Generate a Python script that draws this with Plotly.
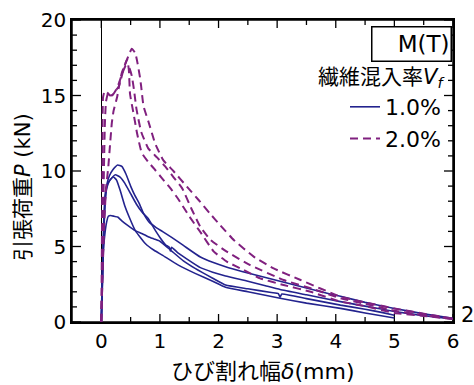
import plotly.graph_objects as go

# Tensile load P (kN) vs crack width delta (mm), fiber content 1.0 % (solid) and 2.0 % (dashed)

# ---- 1.0 % specimens ----
b1_x = [0, 0.02, 0.04, 0.07, 0.1, 0.14, 0.2, 0.28, 0.35, 0.42, 0.5, 0.57, 0.64, 0.72, 0.82, 0.92,
        1.04, 1.2, 1.4, 1.69, 1.9, 2.12, 2.4, 2.7, 3.0, 3.4, 3.8, 4.08, 4.5, 5.0, 5.5, 6.0]
b1_y = [0, 2.5, 5.5, 8.2, 9.2, 9.7, 10.1, 10.4, 10.3, 9.8, 9.0, 8.4, 7.9, 7.2, 6.6, 6.3,
        6.0, 5.6, 5.07, 4.3, 3.95, 3.66, 3.35, 3.05, 2.75, 2.35, 1.95, 1.7, 1.3, 0.9, 0.55, 0.25]

b2_x = [0, 0.02, 0.04, 0.07, 0.1, 0.15, 0.24, 0.32, 0.4, 0.5, 0.6, 0.7, 0.8, 0.9, 1.0, 1.1, 1.16,
        1.18, 1.2, 1.3, 1.45, 1.69, 1.9, 2.12, 2.5, 2.8, 3.05, 3.5, 4.08, 4.5, 5.0, 5.5, 6.0]
b2_y = [0, 3.0, 6.5, 8.6, 9.1, 9.4, 9.75, 9.6, 9.2, 8.5, 7.8, 7.25, 6.85, 6.2, 5.6, 5.1, 4.95,
        4.7, 4.95, 4.6, 4.2, 3.6, 3.3, 3.05, 2.7, 2.4, 2.15, 1.8, 1.35, 1.05, 0.7, 0.42, 0.2]

b3_x = [0, 0.02, 0.05, 0.08, 0.12, 0.17, 0.21, 0.26, 0.32, 0.4, 0.47, 0.58, 0.75, 0.9, 1.04,
        1.3, 1.6, 1.9, 2.12, 2.5, 3.05, 3.5, 4.08, 4.5, 5.0]
b3_y = [0, 3.5, 7.0, 8.6, 9.2, 9.5, 9.6, 9.4, 8.74, 7.7, 7.0, 6.05, 5.2, 4.75, 4.43,
        3.8, 3.22, 2.7, 2.3, 2.0, 1.57, 1.25, 0.9, 0.6, 0.27]

b4_x = [0, 0.01, 0.03, 0.06, 0.09, 0.12, 0.16, 0.22, 0.28, 0.35, 0.45, 0.58, 0.7, 0.8, 0.9, 1.0,
        1.2, 1.4, 1.6, 1.9, 2.12, 2.5, 2.9, 3.02, 3.05, 3.08, 3.5, 4.08, 4.5, 4.8, 5.0]
b4_y = [0, 2.0, 4.5, 5.8, 6.6, 7.0, 7.05, 7.0, 6.95, 6.7, 6.4, 6.05, 5.85, 5.65, 5.5, 5.35,
        4.7, 4.05, 3.55, 2.9, 2.45, 2.2, 1.95, 1.88, 1.65, 1.85, 1.55, 1.12, 0.85, 0.62, 0.45]

# ---- 2.0 % specimens ----
d1_x = [0, 0.01, 0.02, 0.03, 0.06, 0.1, 0.15, 0.21, 0.26, 0.3, 0.35, 0.4, 0.44, 0.47, 0.49,
        0.55, 0.61, 0.69, 0.8, 0.89, 1.04, 1.2, 1.32, 1.5, 1.7, 1.92, 2.14, 2.43, 2.71, 3.11,
        3.57, 4.08, 4.5, 5.0, 5.5, 6.0]
d1_y = [0, 5.0, 10.5, 14.9, 15.3, 15.2, 15.0, 15.1, 15.4, 15.6, 16.3, 17.0, 17.4, 16.7, 15.1,
        13.8, 12.5, 11.2, 10.6, 10.2, 9.5, 8.75, 8.1, 7.0, 5.9, 4.66, 4.0, 3.44, 2.89, 2.45,
        2.0, 1.35, 1.05, 0.6, 0.4, 0.2]

d2_x = [0, 0.02, 0.05, 0.08, 0.12, 0.15, 0.18, 0.21, 0.27, 0.31, 0.35, 0.41, 0.47, 0.52, 0.58,
        0.62, 0.66, 0.68, 0.72, 0.81, 0.92, 1.06, 1.23, 1.46, 1.66, 1.85, 2.03, 2.26, 2.6, 2.94,
        3.4, 4.08, 4.5, 5.0, 5.5, 6.0]
d2_y = [0, 3.0, 6.5, 8.8, 10.3, 11.8, 13.2, 14.0, 14.9, 15.8, 16.5, 17.1, 17.7, 18.1, 17.8,
        17.1, 16.2, 15.6, 14.3, 13.2, 11.8, 10.7, 10.0, 8.96, 8.08, 7.2, 6.4, 5.43, 4.33, 3.55,
        2.78, 1.68, 1.3, 0.9, 0.55, 0.22]

d3_x = [0, 0.02, 0.04, 0.06, 0.08, 0.12, 0.18, 0.24, 0.3, 0.36, 0.42, 0.47, 0.52, 0.56, 0.6,
        0.68, 0.8, 0.95, 1.09, 1.23, 1.38, 1.55, 1.69, 1.86, 2.14, 2.54, 3.11, 3.6, 4.08, 4.5,
        5.0, 5.5, 6.0]
d3_y = [0, 4.0, 9.0, 13.0, 14.6, 15.2, 15.0, 15.3, 15.8, 16.5, 17.0, 16.9, 16.3, 15.3, 14.1,
        12.6, 11.5, 10.9, 10.3, 9.6, 8.85, 7.4, 6.3, 5.45, 4.66, 3.77, 2.78, 2.2, 1.57, 1.2,
        0.75, 0.45, 0.22]

series_labels = ["1.0%", "2.0%"]
x_ticks = [0, 1, 2, 3, 4, 5, 6]
y_ticks = [0, 5, 10, 15, 20]
x_minor = [0.5, 1.5, 2.5, 3.5, 4.5, 5.5]
y_minor = [v for v in range(1, 20) if v % 5]
X_RANGE = [-0.5, 6]
Y_RANGE = [0, 20]

BLUE = "#23238e"
PURPLE = "#80207f"
FONT = "DejaVu Sans, Noto Sans CJK JP, sans-serif"

W, H = 474, 385
L, R, T, B = 72, 21, 20, 63
pw, ph = W - L - R, H - T - B

# data units per screen pixel, for tick lengths given in pixels
ux = (X_RANGE[1] - X_RANGE[0]) / pw
uy = (Y_RANGE[1] - Y_RANGE[0]) / ph

fig = go.Figure()

# frame and inward ticks on all four sides
x0, x1 = X_RANGE
y0, y1 = Y_RANGE
fig.add_trace(go.Scatter(
    x=[x0, x1, x1, x0, x0], y=[y0, y0, y1, y1, y0], mode="lines", showlegend=False,
    hoverinfo="skip", cliponaxis=False, line=dict(color="black", width=1.5)))

tx, ty = [], []
for vals, n in ((x_ticks, 8), (x_minor, 5)):
    for v in vals:
        tx += [v, v, None, v, v, None]
        ty += [y0, y0 + n * uy, None, y1, y1 - n * uy, None]
for vals, n in ((y_ticks, 9), (y_minor, 5)):
    for v in vals:
        tx += [x0, x0 + n * ux, None, x1, x1 - n * ux, None]
        ty += [v, v, None, v, v, None]
fig.add_trace(go.Scatter(
    x=tx, y=ty, mode="lines", showlegend=False, hoverinfo="skip", cliponaxis=False,
    line=dict(color="black", width=1.3)))

solid_sets = [(b1_x, b1_y), (b2_x, b2_y), (b3_x, b3_y), (b4_x, b4_y)]
dashed_sets = [(d1_x, d1_y), (d2_x, d2_y), (d3_x, d3_y)]

for i, (xs, ys) in enumerate(solid_sets):
    fig.add_trace(go.Scatter(
        x=xs, y=ys, mode="lines", name=series_labels[0], legendgroup="a",
        showlegend=(i == 0), line=dict(color=BLUE, width=1.6, shape="spline", smoothing=0.4)))

for i, (xs, ys) in enumerate(dashed_sets):
    fig.add_trace(go.Scatter(
        x=xs, y=ys, mode="lines", name=series_labels[1], legendgroup="b",
        showlegend=(i == 0),
        line=dict(color=PURPLE, width=2, dash="8px,5px", shape="spline", smoothing=0.4)))


def px(xp):
    return (xp - L) / pw


def py(yp):
    return (H - B - yp) / ph


fig.update_xaxes(
    range=X_RANGE, tickmode="array", tickvals=x_ticks,
    showgrid=False, showline=True, linecolor="black", linewidth=1.5, mirror=True,
    ticks="", zeroline=True, zerolinecolor="black", zerolinewidth=1.3,
    tickfont=dict(family=FONT, size=20, color="black"),
)
fig.update_yaxes(
    range=Y_RANGE, tickmode="array", tickvals=y_ticks,
    showgrid=False, showline=True, linecolor="black", linewidth=1.5, mirror=True,
    ticks="", zeroline=False,
    tickfont=dict(family=FONT, size=20, color="black"),
)

paper = dict(xref="paper", yref="paper", showarrow=False)
annotations = [
    dict(text="M(T)", x=px(411.5), y=py(44), xanchor="center", yanchor="middle",
         font=dict(family=FONT, size=23, color="black"),
         bordercolor="black", borderwidth=1.5, borderpad=1, width=76, height=31,
         align="right", bgcolor="white", **paper),
    dict(text="繊維混入率<i>V</i><sub><i>f</i></sub>", x=px(447), y=py(78),
         xanchor="right", yanchor="middle",
         font=dict(family=FONT, size=21, color="black"), **paper),
    dict(text="ひび割れ幅<i>δ</i>(mm)", x=px(263), y=py(371), xanchor="center",
         yanchor="middle", font=dict(family=FONT, size=22, color="black"), **paper),
    dict(text="引張荷重<i>P</i> (kN)", x=px(23), y=py(187), xanchor="center",
         yanchor="middle", textangle=-90,
         font=dict(family=FONT, size=21, color="black"), **paper),
    dict(text="2", x=px(459), y=py(315), xanchor="left", yanchor="middle",
         font=dict(family=FONT, size=21, color="black"), **paper),
]

fig.update_layout(
    template="none",
    width=W, height=H, margin=dict(l=L, r=R, t=T, b=B),
    paper_bgcolor="white", plot_bgcolor="white",
    annotations=annotations,
    legend=dict(x=px(446), y=py(86), xanchor="right", yanchor="top",
                bgcolor="rgba(0,0,0,0)", borderwidth=0, tracegroupgap=0,
                font=dict(family=FONT, size=22, color="black")),
    showlegend=True,
)

fig.write_html("out.html")
